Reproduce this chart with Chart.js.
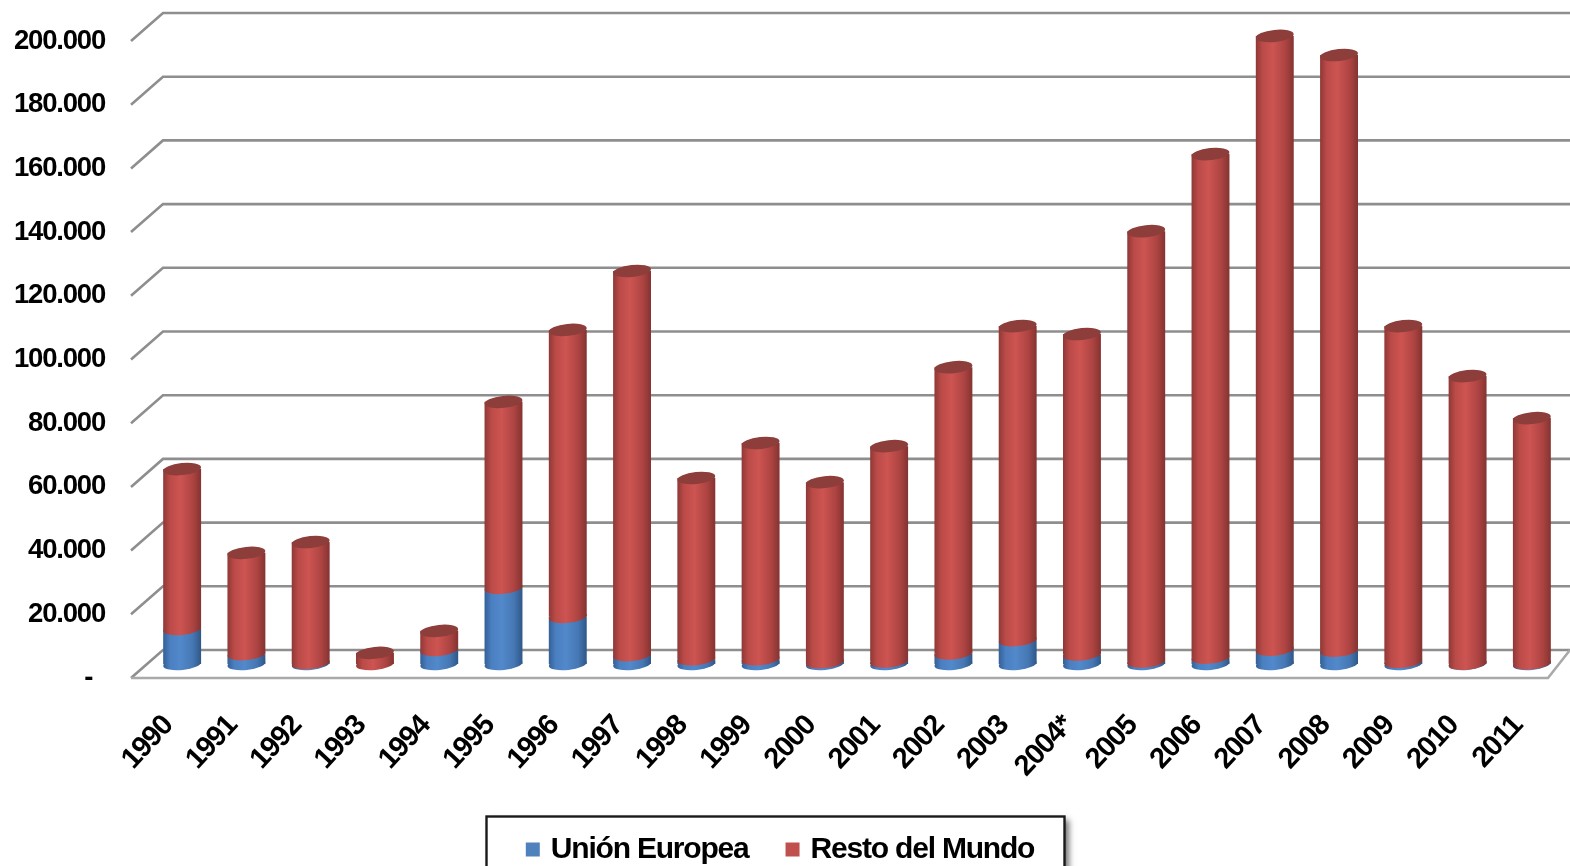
<!DOCTYPE html>
<html><head><meta charset="utf-8">
<style>html,body{margin:0;padding:0;background:#fff;overflow:hidden}canvas{display:block;filter:blur(0.7px)}</style>
<script src="https://cdn.jsdelivr.net/npm/chart.js@4"></script>
</head><body><canvas id="c" width="1570" height="866"></canvas>
<script>
const categories=['1990','1991','1992','1993','1994','1995','1996','1997','1998','1999','2000','2001','2002','2003','2004*','2005','2006','2007','2008','2009','2010','2011'];
const unionEuropea=[11000,3100,300,0,4400,23900,14800,2800,1500,1500,600,800,3300,7500,3000,800,2000,4500,4200,700,100,200];
const restoMundo=[50200,31800,38000,3500,6000,58400,90100,120600,56900,67900,56500,67600,89900,98600,100600,135100,158100,192700,187000,105400,90300,77000];
const yTickValues=[0,20000,40000,60000,80000,100000,120000,140000,160000,180000,200000];

const TICK_FONT='"Liberation Sans",Arial,sans-serif';
const BAR_PCT=0.59, RX=19, RY=6, TILT=-6*Math.PI/180;
const BLUE=['#345f96','#4a7fc0','#5289cb','#4577b3','#2f5788'];
const RED=['#8f3836','#bb4b48','#cd5451','#ad4442','#843331'];

function gradientFor(chart,i,stops){
  const x=chart.scales.x.getPixelForValue(i);
  const w=(chart.scales.x.width/categories.length)*BAR_PCT/2;
  const g=chart.ctx.createLinearGradient(x-w,0,x+w,0);
  g.addColorStop(0,stops[0]);g.addColorStop(.18,stops[1]);g.addColorStop(.45,stops[2]);g.addColorStop(.78,stops[3]);g.addColorStop(1,stops[4]);
  return g;
}
function ellipse(ctx,x,y,fill){
  ctx.beginPath();ctx.ellipse(x,y,RX,RY,TILT,0,Math.PI*2);ctx.fillStyle=fill;ctx.fill();
}
const perspective={
  id:'perspective',
  beforeUpdate(chart){chart.ctx.letterSpacing='-1.2px';},
  beforeDraw(chart){
    const ctx=chart.ctx;
    ctx.letterSpacing='-1.2px';
    ctx.save();
    ctx.shadowColor='rgba(0,0,0,.55)';ctx.shadowBlur=6;ctx.shadowOffsetX=4;ctx.shadowOffsetY=3;
    ctx.fillStyle='#fff';ctx.fillRect(486.5,816.5,578,70);
    ctx.shadowColor='transparent';
    ctx.strokeStyle='#1a1a1a';ctx.lineWidth=2.4;ctx.strokeRect(486.5,816.5,578,70);
    ctx.restore();
  },
  beforeDatasetsDraw(chart){
    const ctx=chart.ctx,back=chart.scales.yBack,front=chart.scales.yLabel;
    const x0=131,x1=163,xr=1570,xf=1548;
    ctx.save();
    ctx.lineWidth=2.6;ctx.strokeStyle='#8e8e8e';
    yTickValues.forEach(v=>{
      const yb=back.getPixelForValue(v),yf=front.getPixelForValue(v);
      ctx.beginPath();ctx.moveTo(x0,yf);ctx.lineTo(x1,yb);ctx.lineTo(xr,yb);ctx.stroke();
    });
    ctx.strokeStyle='#a9a9a9';
    const yf=front.getPixelForValue(0),yb=back.getPixelForValue(0);
    ctx.beginPath();ctx.moveTo(x0,yf);ctx.lineTo(xf,yf);ctx.lineTo(xr,yb);ctx.stroke();
    ctx.restore();
  },
  afterDatasetsDraw(chart){
    const ctx=chart.ctx,y=chart.scales.y,x=chart.scales.x;
    ctx.save();
    categories.forEach((c,i)=>{
      const px=x.getPixelForValue(i);
      const u=unionEuropea[i],r=restoMundo[i];
      if(u>0) ellipse(ctx,px,y.getPixelForValue(0),gradientFor(chart,i,BLUE));
      ellipse(ctx,px,y.getPixelForValue(u),gradientFor(chart,i,RED));
      ellipse(ctx,px,y.getPixelForValue(u+r),'#8d3d3a');
    });
    ctx.restore();
  },
  afterLayout(chart){
    const l=chart.legend;
    const h=l.bottom-l.top;
    l.top=834-h/2;l.bottom=l.top+h;
  }
};
new Chart(document.getElementById('c'),{
  type:'bar',
  data:{labels:categories,datasets:[
    {label:'Unión Europea',data:unionEuropea,stack:'s',yAxisID:'y',
     backgroundColor:c=>gradientFor(c.chart,c.dataIndex,BLUE),borderWidth:0,legendColor:'#4f81bd'},
    {label:'Resto del Mundo',data:restoMundo,stack:'s',yAxisID:'y',
     backgroundColor:c=>gradientFor(c.chart,c.dataIndex,RED),borderWidth:0,legendColor:'#c0504d'}
  ]},
  plugins:[perspective],
  options:{
    responsive:false,animation:false,
    layout:{padding:{top:13,right:6,left:0,bottom:0}},
    datasets:{bar:{barPercentage:BAR_PCT,categoryPercentage:1}},
    plugins:{
      tooltip:{enabled:false},
      legend:{position:'bottom',labels:{
        boxWidth:6,boxHeight:6,padding:41,color:'#000',
        font:{family:TICK_FONT,size:30,weight:'bold'},
        generateLabels(chart){
          return chart.data.datasets.map((d,i)=>({text:d.label,fillStyle:d.legendColor,strokeStyle:d.legendColor,lineWidth:8,datasetIndex:i,fontColor:'#000'}));
        }
      }}
    },
    scales:{
      x:{stacked:true,offset:true,grid:{display:false},border:{display:false},
        afterFit(s){s.height=866-678-s.chart.legend.height;s.paddingLeft=0;s.paddingRight=0;},
        ticks:{autoSkip:false,minRotation:47,maxRotation:47,padding:23,labelOffset:-14,color:'#000',
          font:{family:TICK_FONT,size:29,weight:'bold'}}},
      y:{stacked:true,display:false,min:-4396,max:204396},
      yBack:{display:false,min:-8791,max:200000},
      yLabel:{position:'left',min:0,max:208790,grid:{display:false,drawTicks:false},border:{display:false},
        afterBuildTicks(s){s.ticks=yTickValues.map(v=>({value:v}));},
        afterFit(s){s.width=150;s.paddingTop=0;s.paddingBottom=0;},
        ticks:{padding:45,color:'#000',autoSkip:false,
          font:{family:TICK_FONT,size:27.5,weight:'bold'},
          callback(v){return v===0?'-  ':v.toLocaleString('de-DE');}}}
    }
  }
});
</script></body></html>
